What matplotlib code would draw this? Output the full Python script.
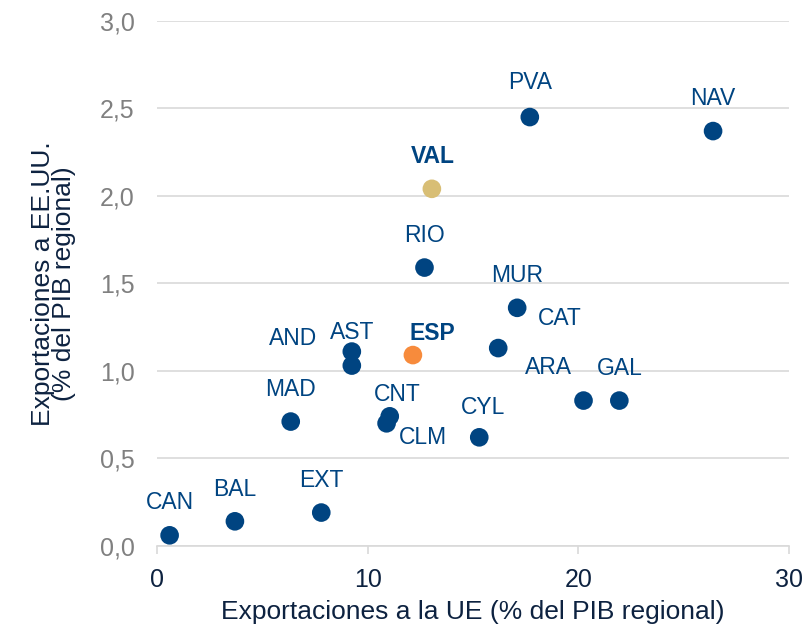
import matplotlib
matplotlib.use('Agg')
import matplotlib.pyplot as plt

plt.rcParams['font.family'] = ['Liberation Sans', 'DejaVu Sans']

# regiones: exportaciones a la UE y a EE.UU. (% del PIB regional)
regiones = ['CAN', 'BAL', 'EXT', 'MAD', 'AND', 'AST', 'CNT', 'CLM', 'ESP', 'RIO',
            'VAL', 'CYL', 'CAT', 'MUR', 'PVA', 'ARA', 'GAL', 'NAV']
exp_ue = [0.6, 3.7, 7.8, 6.35, 9.25, 9.25, 11.05, 10.9, 12.15, 12.7,
          13.05, 15.3, 16.2, 17.1, 17.7, 20.25, 21.95, 26.4]
exp_usa = [0.06, 0.14, 0.19, 0.71, 1.03, 1.11, 0.74, 0.70, 1.09, 1.59,
           2.04, 0.62, 1.13, 1.36, 2.45, 0.83, 0.83, 2.37]

# desplazamiento de las etiquetas (pixeles)
offsets = {'CAN': (0, 33), 'BAL': (0, 32), 'EXT': (0, 32), 'MAD': (0, 32),
           'AND': (-59, 27), 'AST': (0, 19), 'CNT': (8, 22), 'CLM': (36, -14),
           'ESP': (19, 22), 'RIO': (0, 32), 'VAL': (1, 32), 'CYL': (4, 30),
           'CAT': (62, 30), 'MUR': (0, 32), 'PVA': (0, 35), 'ARA': (-35, 33),
           'GAL': (0, 32), 'NAV': (0, 33)}

azul = '#004481'
colores = []
for r in regiones:
    if r == 'ESP':
        colores.append('#F78B3C')
    elif r == 'VAL':
        colores.append('#D8BE75')
    else:
        colores.append(azul)

fig = plt.figure(figsize=(8.05, 6.31), dpi=100)
ax = fig.add_axes([0.195, 0.135, 0.785, 0.832])

ax.scatter(exp_ue, exp_usa, s=180, c=colores, zorder=3, linewidths=0)

for r, x, y in zip(regiones, exp_ue, exp_usa):
    bold = r in ('ESP', 'VAL')
    ax.annotate(r, (x, y), xytext=offsets[r], textcoords='offset pixels',
                ha='center', va='center', fontsize=16.5, color=azul,
                fontweight='bold' if bold else 'normal')

ax.set_xlim(0, 30)
ax.set_ylim(0, 3)
ax.set_xticks([0, 10, 20, 30])
ax.set_yticks([0, 0.5, 1.0, 1.5, 2.0, 2.5, 3.0])
ax.set_yticklabels(['0,0', '0,5', '1,0', '1,5', '2,0', '2,5', '3,0'])
ax.grid(axis='y', color='#d9d9d9', lw=1.2, zorder=0)
ax.set_axisbelow(True)
for s in ('top', 'right', 'left'):
    ax.spines[s].set_visible(False)
ax.spines['bottom'].set_color('#d9d9d9')
ax.spines['bottom'].set_linewidth(1.2)
ax.tick_params(axis='y', length=0, labelsize=18, labelcolor='#808080', pad=16)
ax.tick_params(axis='x', length=6, color='#d9d9d9', width=1.2,
               labelsize=18, labelcolor='#0d2240', pad=10)

ax.set_xlabel('Exportaciones a la UE (% del PIB regional)', fontsize=19,
              color='#0d2240', labelpad=6)
ax.set_ylabel('Exportaciones a EE.UU.\n(% del PIB regional)', fontsize=19,
              color='#0d2240', labelpad=17, linespacing=0.85)

fig.savefig('out.png', dpi=100)
